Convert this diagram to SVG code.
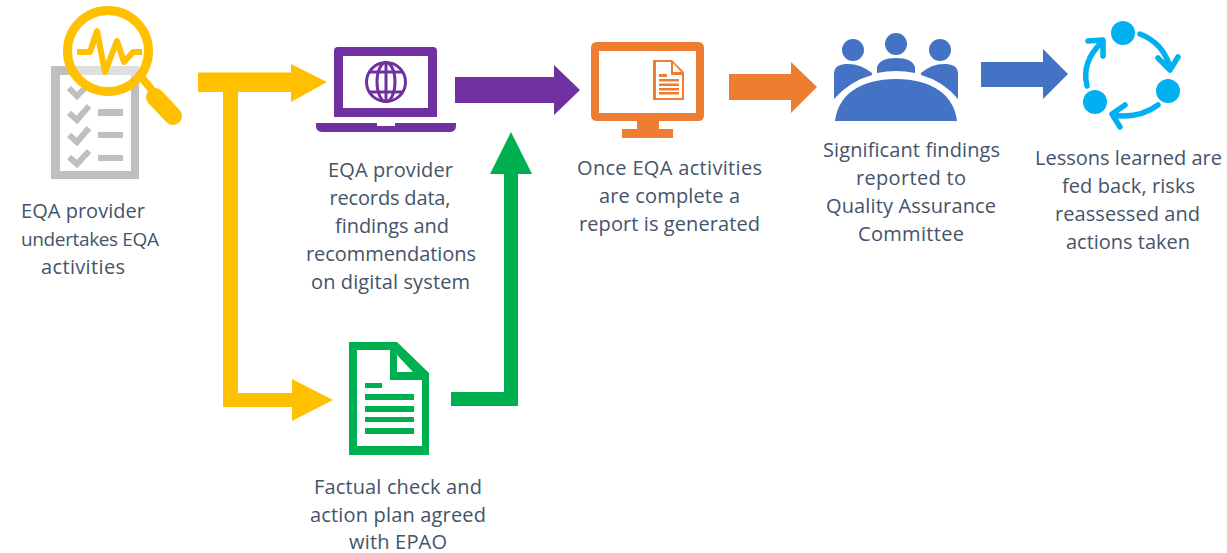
<svg xmlns="http://www.w3.org/2000/svg" width="1227" height="553" viewBox="0 0 1227 553">
<style>
text{font-family:"Open Sans","Liberation Sans",sans-serif;font-size:20px;fill:#44546a;text-anchor:middle}
</style>
<rect width="1227" height="553" fill="#fff"/>
<g id="connectors">
<path fill="#ffc000" d="M198 72.500H291V64L327 82L291 102V92H238V393H292V379L333 400L292 421V407H223V92H198Z"/>
<path fill="#7030a0" d="M455 77H554V65L580 90L554 115V103H455Z"/>
<path fill="#00b050" d="M451 392H504V174H490L511 132L532 174H518V406H451Z"/>
<path fill="#ed7d31" d="M729 74H791V62L817 87L791 113V100H729Z"/>
<path fill="#4472c4" d="M981 62H1043V49L1068 74L1043 99V87H981Z"/>
</g>
<g id="n1">
<path fill="#bfbfbf" fill-rule="evenodd" d="M51 66H139V179H51ZM60 75V171H131V75Z"/>
<g fill="none" stroke="#bfbfbf" stroke-width="6"><path d="M69 88L77 96L86 87M69 113L77 120L89 106M69 135L77 142L89 128M69 157L77 164L89 151"/></g>
<path fill="#bfbfbf" d="M98 109H123V116H98ZM98 132H123V138H98ZM98 155H123V161H98Z"/>
<circle cx="108" cy="51" r="36" fill="#fff" fill-opacity=".5"/>
<circle cx="108" cy="51" r="40.500" fill="none" stroke="#ffc000" stroke-width="9"/>
<path d="M77 52H90L97 31L105 72L117 41L124 62L133 52H142" fill="none" stroke="#ffc000" stroke-width="6" stroke-linejoin="round"/>
<path d="M142 78L152 90" stroke="#ffc000" stroke-width="8"/>
<path d="M155 97L173 116" stroke="#ffc000" stroke-width="18" stroke-linecap="round"/>
<text x="83" y="218" textLength="124">EQA provider</text><text x="90" y="246" textLength="138" style="font-size:19px">undertakes EQA</text><text x="83" y="274" textLength="84">activities</text>
</g>
<g id="n2">
<path fill="#7030a0" fill-rule="evenodd" d="M338 47H433Q437 47 437 51V117H334V51Q334 47 338 47ZM343 56V108H428V56Z"/>
<path fill="#7030a0" d="M316 123H377V126H395V123H456V126Q456 132 449 132H323Q316 132 316 126Z"/>
<g fill="none" stroke="#7030a0" stroke-width="3"><circle cx="386" cy="82" r="19.500"/><ellipse cx="386" cy="82" rx="9" ry="19.500"/><path d="M386 62V102M369 72H403M369 92H403"/></g>
<text x="390.500" y="177" textLength="125">EQA provider</text><text x="390" y="205" textLength="121">records data,</text><text x="392" y="233" textLength="114">findings and</text><text x="391" y="261" textLength="170">recommendations</text><text x="390.500" y="289" textLength="159">on digital system</text>
</g>
<g id="n3">
<path fill="#00b050" fill-rule="evenodd" d="M349 342H397L429 373V455H349ZM357 350V446H422V380H390V350ZM397 355V372H413Z"/>
<path fill="#00b050" d="M365 383H382V388H365ZM365 394H414V400H365ZM365 406H414V412H365ZM365 417H414V422H365ZM365 428H414V434H365Z"/>
<text x="398" y="494" textLength="168">Factual check and</text><text x="398" y="522" textLength="176">action plan agreed</text><text x="398" y="549" textLength="98">with EPAO</text>
</g>
<g id="n4">
<path fill="#ed7d31" fill-rule="evenodd" d="M597 42H698Q704 42 704 48V115Q704 121 698 121H659V129H673V138H622V129H637V121H597Q591 121 591 115V48Q591 42 597 42ZM599 51V113H696V51Z"/>
<path fill="#ed7d31" fill-rule="evenodd" d="M653 60H672L684 72V100H653ZM656 62V98H682V75H671V62ZM673 63V72H681Z"/>
<path fill="#ed7d31" d="M659 74H667V77H659ZM659 79H679V81.500H659ZM659 83.500H679V86H659ZM659 88H679V90.500H659ZM659 92H679V94.500H659Z"/>
<text x="669.500" y="175" textLength="185">Once EQA activities</text><text x="669.500" y="203" textLength="141">are complete a</text><text x="669.500" y="231" textLength="181">report is generated</text>
</g>
<g id="n5" fill="#4472c4">
<circle cx="853" cy="50" r="11"/><circle cx="896" cy="44" r="11"/><circle cx="940" cy="50" r="11"/>
<path d="M834 99V73Q834 65 845 64Q860 63 872 73V75Q850 81 834 99Z"/>
<path d="M877 73V67Q880 58 896 58Q912 58 915 67V73Q896 69 877 73Z"/>
<path d="M921 75V73Q932 63 947 64Q958 65 958 73V99Q943 81 921 75Z"/>
<path d="M835 121C838 95 860 79 896 79C932 79 954 95 957 121Z"/>
<text x="911.500" y="157" textLength="177">Significant findings</text><text x="911" y="185" textLength="110">reported to</text><text x="911" y="213" textLength="170">Quality Assurance</text><text x="911" y="241" textLength="106">Committee</text>
</g>
<g id="n6">
<g fill="#00b0f0"><circle cx="1123" cy="33" r="12"/><circle cx="1168" cy="91" r="12"/><circle cx="1095" cy="102" r="12"/></g>
<g fill="none" stroke="#00b0f0" stroke-width="5.500" stroke-linecap="round" stroke-linejoin="round"><path d="M1140 34Q1163 43 1170 67M1158 58L1170 70L1178 57"/><path d="M1158 105Q1139 119 1113 115M1125 105L1112 114L1120 127"/><path d="M1087 86Q1081 62 1102 42M1088 41L1103 40L1103 56"/></g>
<text x="1128.500" y="165" textLength="187">Lessons learned are</text><text x="1128.500" y="193" textLength="133">fed back, risks</text><text x="1127.500" y="221" textLength="145">reassessed and</text><text x="1128" y="249" textLength="124">actions taken</text>
</g>
</svg>
